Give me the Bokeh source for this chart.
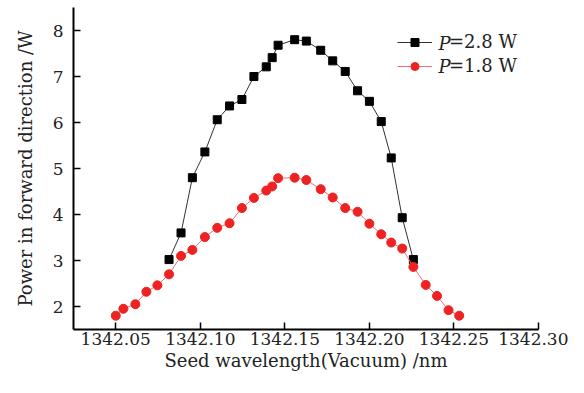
from bokeh.plotting import figure
from bokeh.models import Range1d, FixedTicker, NumeralTickFormatter, Legend, LegendItem, Label
from bokeh.embed import file_html
from bokeh.resources import INLINE

wavelength = [1342.050, 1342.0545, 1342.0616, 1342.0681, 1342.0746, 1342.0815, 1342.0886,
              1342.0953, 1342.1027, 1342.1100, 1342.1173, 1342.1246, 1342.1317, 1342.1390,
              1342.1425, 1342.1460, 1342.1558, 1342.1627, 1342.1712, 1342.1783, 1342.1857,
              1342.1930, 1342.2000, 1342.2070, 1342.2129, 1342.2194, 1342.2260, 1342.2333,
              1342.2400, 1342.2468, 1342.2531]
power_18 = [1.80, 1.95, 2.05, 2.32, 2.46, 2.70, 3.10, 3.23, 3.51, 3.71, 3.81, 4.14, 4.36, 4.52,
            4.61, 4.79, 4.80, 4.75, 4.55, 4.37, 4.14, 4.06, 3.80, 3.57, 3.39, 3.26, 2.86, 2.47,
            2.23, 1.92, 1.80]
wavelength_28 = wavelength[5:27]
power_28 = [3.02, 3.60, 4.80, 5.36, 6.06, 6.36, 6.50, 7.00, 7.21, 7.41, 7.68, 7.80, 7.77, 7.57,
            7.34, 7.11, 6.69, 6.46, 6.02, 5.23, 3.93, 3.02]
x_ticks = [1342.05, 1342.10, 1342.15, 1342.20, 1342.25, 1342.30]
y_ticks = [2, 3, 4, 5, 6, 7, 8]
labels = ["=2.8 W", "=1.8 W"]

FONT = "DejaVu Serif"

p = figure(width=568, height=377, output_backend="svg", toolbar_location=None,
           x_range=Range1d(1342.025, 1342.30), y_range=Range1d(1.5, 8.5),
           min_border_left=73, min_border_right=30, min_border_top=7, min_border_bottom=48)
p.outline_line_color = None
p.xgrid.visible = False
p.ygrid.visible = False

for ax in (p.xaxis, p.yaxis):
    ax.axis_line_width = 2
    ax.axis_line_color = "black"
    ax.major_tick_in = 7
    ax.major_tick_out = 0
    ax.major_tick_line_width = 1.5
    ax.minor_tick_line_color = None
    ax.major_label_text_font = FONT
    ax.major_label_text_font_size = "17px"
    ax.major_label_text_color = "#222222"
    ax.axis_label_text_font = FONT
    ax.axis_label_text_font_size = "18px"
    ax.axis_label_text_font_style = "normal"
    ax.axis_label_text_color = "#222222"

p.xaxis.ticker = FixedTicker(ticks=x_ticks)
p.xaxis.formatter = NumeralTickFormatter(format="0.00")
p.yaxis.ticker = FixedTicker(ticks=y_ticks)
p.xaxis.axis_label = "Seed wavelength(Vacuum) /nm"
p.yaxis.axis_label = "Power in forward direction /W"
p.xaxis.major_label_standoff = 3
p.yaxis.major_label_standoff = 10
p.xaxis.axis_label_standoff = 2
p.yaxis.axis_label_standoff = 14

l1 = p.line(wavelength_28, power_28, line_color="#333333", line_width=1)
m1 = p.scatter(wavelength_28, power_28, marker="square", size=8, fill_color="black", line_color="black")
l2 = p.line(wavelength, power_18, line_color="#f07070", line_width=1)
m2 = p.scatter(wavelength, power_18, marker="circle", size=9, fill_color="#ee2222", line_color="#ee2222")

legend = Legend(items=[LegendItem(label=labels[0], renderers=[l1, m1]),
                       LegendItem(label=labels[1], renderers=[l2, m2])],
                location=(324, 253), padding=0, margin=0, spacing=3,
                glyph_width=35, glyph_height=20, label_standoff=17,
                label_text_font=FONT, label_text_font_size="18px", label_text_color="#222222",
                border_line_alpha=0, background_fill_alpha=0)
p.add_layout(legend, "center")

for i in range(2):
    p.add_layout(Label(x=365, y=286 - 23 * i, x_units="screen", y_units="screen", text="P",
                       text_font=FONT, text_font_size="18px", text_font_style="italic",
                       text_color="#222222", text_baseline="middle"))

open("out.html", "w").write(file_html(p, INLINE))
